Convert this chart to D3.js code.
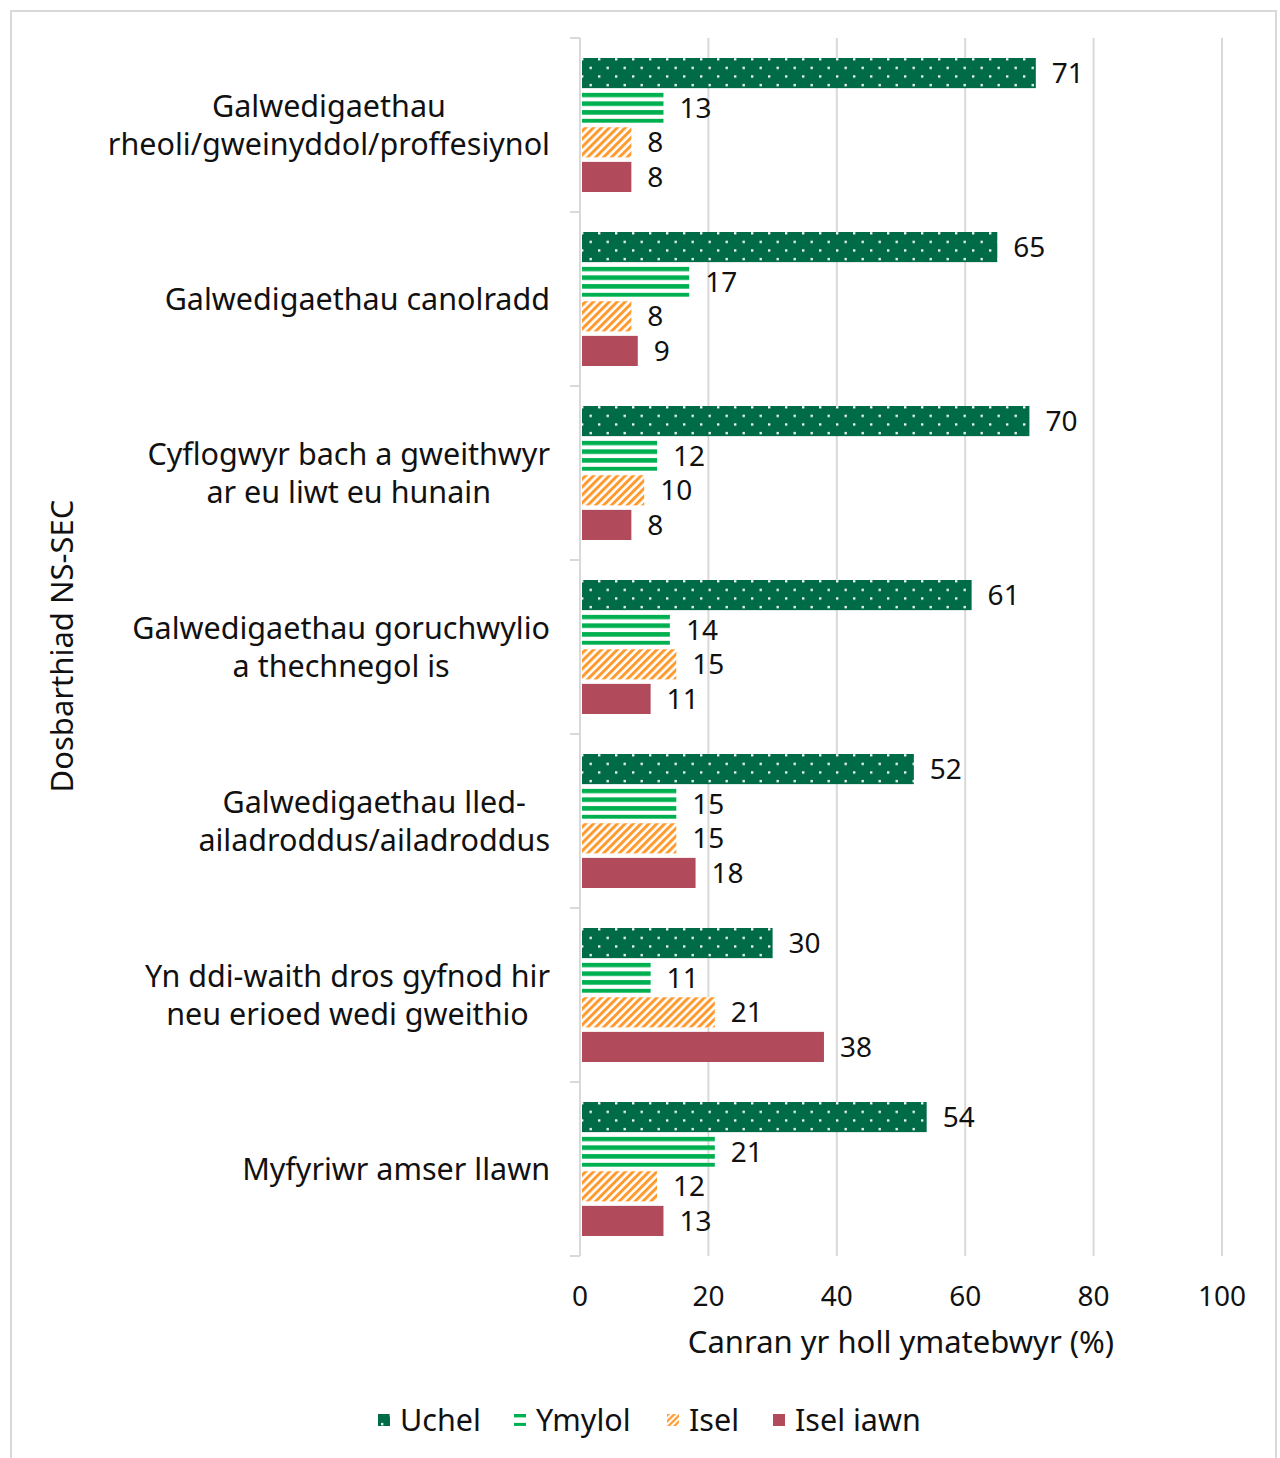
<!DOCTYPE html>
<html>
<head>
<meta charset="utf-8">
<script src="https://cdn.jsdelivr.net/npm/d3@7"></script>
<style>
  html, body { margin: 0; padding: 0; background: #ffffff; }
  svg { display: block; }
  text { font-family: "Noto Sans", "Open Sans", sans-serif; fill: #111111; }
</style>
</head>
<body>
<svg id="chart" width="1280" height="1458"></svg>
<script>
// NS-SEC groups (each entry is the list of label lines)
const categories = [
  ["Galwedigaethau", "rheoli/gweinyddol/proffesiynol"],
  ["Galwedigaethau canolradd"],
  ["Cyflogwyr bach a gweithwyr", "ar eu liwt eu hunain"],
  ["Galwedigaethau goruchwylio", "a thechnegol is"],
  ["Galwedigaethau lled-", "ailadroddus/ailadroddus"],
  ["Yn ddi-waith dros gyfnod hir", "neu erioed wedi gweithio"],
  ["Myfyriwr amser llawn"]
];

const seriesNames = ["Uchel", "Ymylol", "Isel", "Isel iawn"];

// Percentage of respondents per group, one array per series
const uchel    = [71, 65, 70, 61, 52, 30, 54];
const ymylol   = [13, 17, 12, 14, 15, 11, 21];
const isel     = [8, 8, 10, 15, 15, 21, 12];
const iselIawn = [8, 9, 8, 11, 18, 38, 13];

const xTicks = [0, 20, 40, 60, 80, 100];

const seriesValues = [uchel, ymylol, isel, iselIawn];

const svg = d3.select("#chart");

// outer frame
svg.append("rect")
  .attr("x", 11).attr("y", 11)
  .attr("width", 1265).attr("height", 1460)
  .attr("fill", "none").attr("stroke", "#d9d9d9").attr("stroke-width", 2);

// fill patterns
const defs = svg.append("defs");

const pDots = defs.append("pattern")
  .attr("id", "pat-uchel").attr("patternUnits", "userSpaceOnUse")
  .attr("width", 17).attr("height", 17.2);
pDots.append("rect").attr("width", 17).attr("height", 17.2).attr("fill", "#006b47");
pDots.append("rect").attr("x", 3).attr("y", 3).attr("width", 2.4).attr("height", 2.2).attr("fill", "#ffffff");
pDots.append("rect").attr("x", 11.5).attr("y", 11.6).attr("width", 2.4).attr("height", 2.2).attr("fill", "#ffffff");

const pStripe = defs.append("pattern")
  .attr("id", "pat-ymylol").attr("patternUnits", "objectBoundingBox")
  .attr("width", 1).attr("height", 1 / 3.45);
pStripe.append("rect").attr("width", 2000).attr("height", 4.6).attr("fill", "#00b050");

const pStripeLegend = defs.append("pattern")
  .attr("id", "pat-ymylol-leg").attr("patternUnits", "objectBoundingBox")
  .attr("width", 1).attr("height", 1 / 1.35);
pStripeLegend.append("rect").attr("width", 100).attr("height", 3.4).attr("fill", "#00b050");

const pDiag = defs.append("pattern")
  .attr("id", "pat-isel").attr("patternUnits", "userSpaceOnUse")
  .attr("width", 5.6).attr("height", 5.6)
  .attr("patternTransform", "rotate(45)");
pDiag.append("rect").attr("width", 5.6).attr("height", 5.6).attr("fill", "#ffffff");
pDiag.append("rect").attr("width", 3).attr("height", 5.6).attr("fill", "#ff9a2e");

const pDiagLegend = defs.append("pattern")
  .attr("id", "pat-isel-leg").attr("patternUnits", "userSpaceOnUse")
  .attr("width", 4.2).attr("height", 4.2)
  .attr("patternTransform", "rotate(45)");
pDiagLegend.append("rect").attr("width", 4.2).attr("height", 4.2).attr("fill", "#ffffff");
pDiagLegend.append("rect").attr("width", 2.2).attr("height", 4.2).attr("fill", "#ff9a2e");

const fills = ["url(#pat-uchel)", "url(#pat-ymylol)", "url(#pat-isel)", "#b14b5b"];
const legendFills = ["url(#pat-uchel)", "url(#pat-ymylol-leg)", "url(#pat-isel-leg)", "#b14b5b"];

// scales
const x = d3.scaleLinear().domain([0, 100]).range([580, 1222]);
const y = d3.scaleBand().domain(d3.range(categories.length)).range([38, 1256]);
const ySeries = d3.scaleBand().domain(d3.range(seriesNames.length))
  .range([20, 154]).paddingInner(0.13);

// vertical gridlines
svg.append("g").selectAll("line")
  .data(xTicks.filter(t => t > 0))
  .join("line")
  .attr("x1", d => x(d)).attr("x2", d => x(d))
  .attr("y1", 38).attr("y2", 1256)
  .attr("stroke", "#d9d9d9").attr("stroke-width", 2);

// bars
const groups = svg.append("g").selectAll("g")
  .data(categories.map((c, i) => i))
  .join("g")
  .attr("transform", i => `translate(0,${y(i)})`);

groups.selectAll("rect")
  .data(i => seriesValues.map((vals, s) => ({ s, v: vals[i] })))
  .join("rect")
  .attr("x", x(0) + 2)
  .attr("y", d => ySeries(d.s))
  .attr("width", d => x(d.v) - x(0) - 2)
  .attr("height", ySeries.bandwidth())
  .attr("fill", d => fills[d.s]);

// value labels
groups.selectAll("text.val")
  .data(i => seriesValues.map((vals, s) => ({ s, v: vals[i] })))
  .join("text")
  .attr("class", "val")
  .attr("x", d => x(d.v) + 16)
  .attr("y", d => ySeries(d.s) + ySeries.bandwidth() / 2)
  .attr("dy", "0.36em")
  .attr("font-size", 28)
  .text(d => d.v);

// category axis line and ticks
const yAxis = svg.append("g");
yAxis.append("line")
  .attr("x1", 580).attr("x2", 580).attr("y1", 38).attr("y2", 1256)
  .attr("stroke", "#d9d9d9").attr("stroke-width", 2);
yAxis.selectAll("line.tick")
  .data(d3.range(categories.length + 1))
  .join("line")
  .attr("class", "tick")
  .attr("x1", 570).attr("x2", 580)
  .attr("y1", i => i < categories.length ? y(i) : y.range()[1])
  .attr("y2", i => i < categories.length ? y(i) : y.range()[1])
  .attr("stroke", "#d9d9d9").attr("stroke-width", 2);

// category labels: multi-line blocks centred on each other, right edge at 550
const lineH = 38;
categories.forEach((lines, i) => {
  const g = svg.append("g");
  const cy = y(i) + y.bandwidth() / 2;
  const texts = lines.map((ln, k) => g.append("text")
    .attr("font-size", 30.5)
    .attr("y", cy + (k - (lines.length - 1) / 2) * lineH)
    .attr("dy", "0.36em")
    .text(ln));
  const widths = texts.map(t => t.node().getComputedTextLength());
  const maxW = d3.max(widths);
  texts.forEach(t => t.attr("text-anchor", "middle").attr("x", 550 - maxW / 2));
});

// x-axis tick labels
svg.append("g").selectAll("text")
  .data(xTicks)
  .join("text")
  .attr("x", d => x(d))
  .attr("y", 1296)
  .attr("dy", "0.36em")
  .attr("text-anchor", "middle")
  .attr("font-size", 28)
  .text(d => d);

// axis titles
svg.append("text")
  .attr("x", (x(0) + x(100)) / 2)
  .attr("y", 1342)
  .attr("dy", "0.36em")
  .attr("text-anchor", "middle")
  .attr("font-size", 31)
  .text("Canran yr holl ymatebwyr (%)");

svg.append("text")
  .attr("transform", "translate(62,646) rotate(-90)")
  .attr("dy", "0.36em")
  .attr("text-anchor", "middle")
  .attr("font-size", 31)
  .text("Dosbarthiad NS-SEC");

// legend
const legendX = [378, 514, 667, 773];
const legend = svg.append("g").selectAll("g")
  .data(seriesNames)
  .join("g")
  .attr("transform", (d, i) => `translate(${legendX[i]},1420)`);
legend.append("rect")
  .attr("x", 0).attr("y", -6)
  .attr("width", 12).attr("height", 12)
  .attr("fill", (d, i) => legendFills[i]);
legend.append("text")
  .attr("x", 22).attr("dy", "0.36em")
  .attr("font-size", 30.5)
  .text(d => d);
</script>
</body>
</html>
